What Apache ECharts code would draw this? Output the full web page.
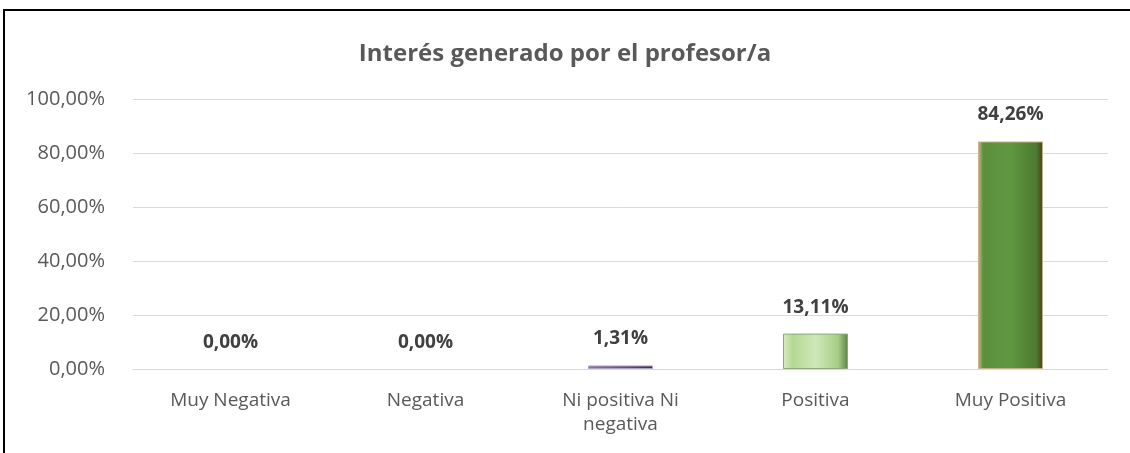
<!DOCTYPE html>
<html><head><meta charset="utf-8">
<script src="https://cdn.jsdelivr.net/npm/echarts@6/dist/echarts.min.js"></script>
<style>html,body{margin:0;padding:0;background:#fff}#c{width:1130px;height:453px}</style>
</head><body><div id="c"></div>
<script>
const categories = ['Muy Negativa', 'Negativa', 'Ni positiva Ni\nnegativa', 'Positiva', 'Muy Positiva'];
const values = [0, 0, 1.31, 13.11, 84.26];
const titleText = 'Interés generado por el profesor/a';

const FONT = '"Open Sans", "Noto Sans", sans-serif';
const styles = [
  null, null,
  {color: {type:'linear',x:0,y:0,x2:1,y2:0,colorStops:[{offset:0,color:'#8a76a6'},{offset:0.5,color:'#6a5488'},{offset:1,color:'#3f2e57'}]}, borderColor:'#b0a4c4', borderWidth:1},
  {color: {type:'linear',x:0,y:0,x2:1,y2:0,colorStops:[{offset:0,color:'#d6ecc2'},{offset:0.15,color:'#b4d895'},{offset:0.5,color:'#cfe8b8'},{offset:0.85,color:'#a6cd86'},{offset:1,color:'#5f7f48'}]}, borderColor:'#8aa878', borderWidth:1},
  {color: {type:'linear',x:0,y:0,x2:1,y2:0,colorStops:[{offset:0,color:'#c9b893'},{offset:0.08,color:'#5d8f3c'},{offset:0.5,color:'#5f9841'},{offset:0.9,color:'#4c7a31'},{offset:1,color:'#4e3a22'}]}, borderColor:'#c8b08a', borderWidth:1}
];

const chart = echarts.init(document.getElementById('c'));
chart.setOption({
  animation: false,
  backgroundColor: '#fff',
  title: {
    text: titleText, left: 'center', top: 37,
    textStyle: {fontFamily: FONT, fontSize: 24, fontWeight: 'bold', color: '#595959'}
  },
  grid: {left: 133, right: 22, top: 99, bottom: 84},
  xAxis: {
    type: 'category', data: categories,
    axisLine: {show: true, lineStyle: {color: '#d9d9d9', width: 1}},
    axisTick: {show: false},
    axisLabel: {fontFamily: FONT, fontSize: 19, color: '#595959', margin: 20, lineHeight: 24, interval: 0}
  },
  yAxis: {
    type: 'value', min: 0, max: 100, interval: 20,
    axisLine: {show: false}, axisTick: {show: false},
    splitLine: {lineStyle: {color: '#d9d9d9', width: 1}},
    axisLabel: {fontFamily: FONT, fontSize: 20, color: '#595959', margin: 28,
      formatter: v => v.toFixed(2).replace('.', ',') + '%'}
  },
  series: [{
    type: 'bar', barWidth: 65,
    data: values.map((v, i) => ({value: v, itemStyle: styles[i] || {color: '#5f9841'}})),
    label: {
      show: true, position: 'top', distance: 17,
      fontFamily: FONT, fontSize: 19, fontWeight: 'bold', color: '#404040',
      formatter: p => p.value.toFixed(2).replace('.', ',') + '%'
    }
  }],
  graphic: [
    {type: 'line', shape: {x1: 3, y1: 10, x2: 1130, y2: 10}, style: {stroke: '#000', lineWidth: 2}},
    {type: 'line', shape: {x1: 4, y1: 9, x2: 4, y2: 453}, style: {stroke: '#000', lineWidth: 2}}
  ]
});
</script></body></html>
